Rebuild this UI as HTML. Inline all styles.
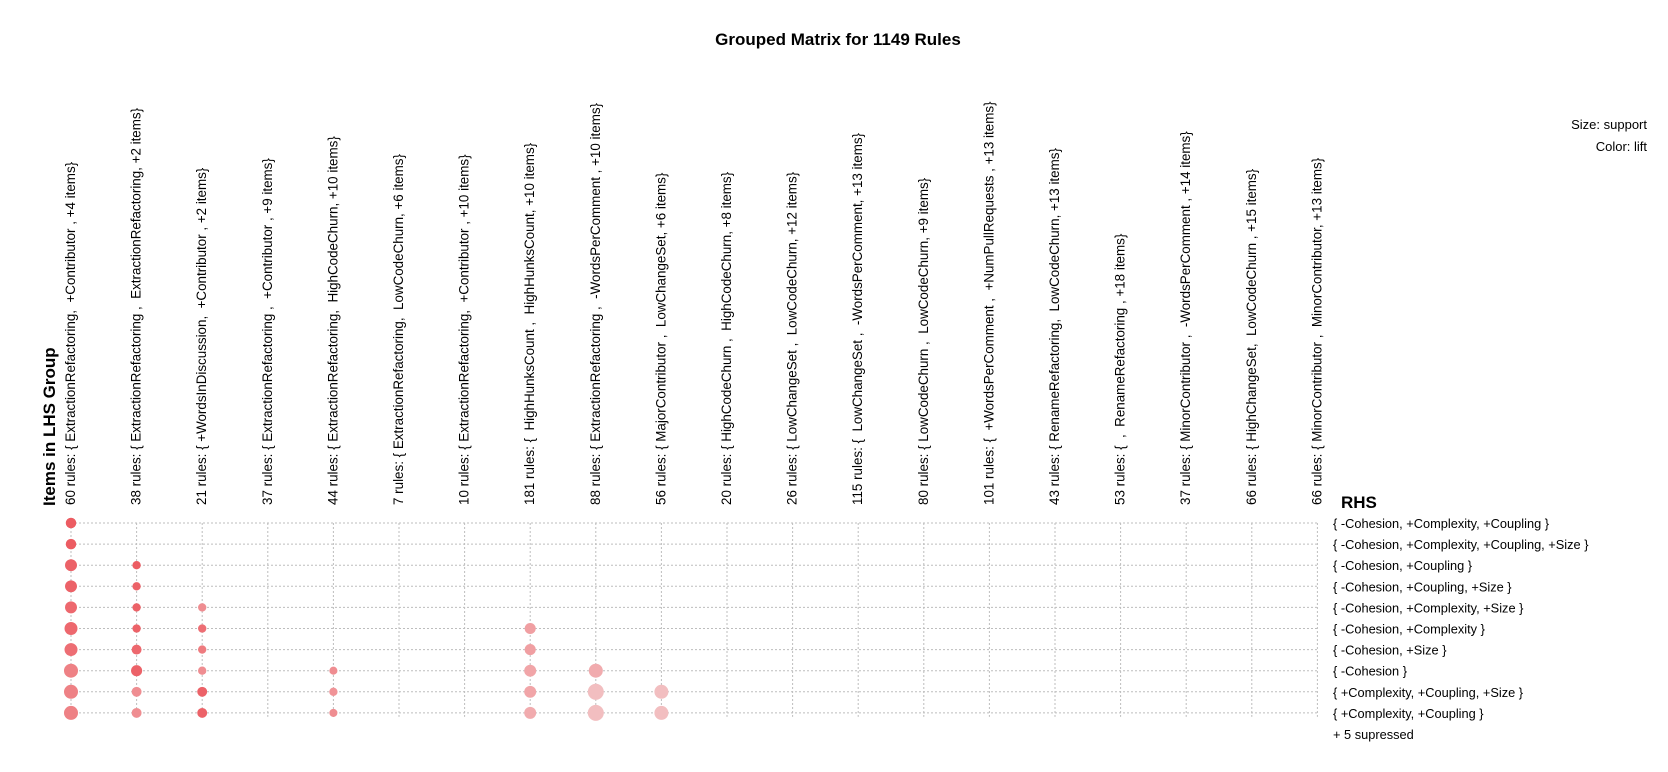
<!DOCTYPE html>
<html><head><meta charset="utf-8"><style>
html,body{margin:0;padding:0;background:#fff;}
svg{display:block;font-family:"Liberation Sans",Arial,sans-serif;}
#lhs text{white-space:pre;}
</style></head><body>
<svg id="chart" width="1668" height="772" viewBox="0 0 1668 772">
<text x="838" y="45" text-anchor="middle" font-size="17" font-weight="bold">Grouped Matrix for 1149 Rules</text>
<text x="1647" y="129" text-anchor="end" font-size="13">Size: support</text>
<text x="1647" y="151" text-anchor="end" font-size="13">Color: lift</text>
<text transform="translate(55,506) rotate(-90)" font-size="17" font-weight="bold">Items in LHS Group</text>
<text x="1341" y="508" font-size="17" font-weight="bold">RHS</text>
<g id="grid"></g><g id="lhs"></g><g id="rhs"></g><g id="pts"></g>
</svg>
<script>
const lhsLabels=["60 rules: { ExtractionRefactoring,  +Contributor , +4 items}","38 rules: { ExtractionRefactoring ,  ExtractionRefactoring, +2 items}","21 rules: { +WordsInDiscussion,  +Contributor , +2 items}","37 rules: { ExtractionRefactoring ,  +Contributor , +9 items}","44 rules: { ExtractionRefactoring,  HighCodeChurn, +10 items}","7 rules: { ExtractionRefactoring,  LowCodeChurn, +6 items}","10 rules: { ExtractionRefactoring,  +Contributor , +10 items}","181 rules: {  HighHunksCount ,  HighHunksCount, +10 items}","88 rules: { ExtractionRefactoring ,  -WordsPerComment , +10 items}","56 rules: { MajorContributor ,  LowChangeSet, +6 items}","20 rules: { HighCodeChurn ,  HighCodeChurn, +8 items}","26 rules: { LowChangeSet ,  LowCodeChurn, +12 items}","115 rules: {  LowChangeSet ,  -WordsPerComment, +13 items}","80 rules: { LowCodeChurn ,  LowCodeChurn, +9 items}","101 rules: {  +WordsPerComment ,  +NumPullRequests , +13 items}","43 rules: { RenameRefactoring,  LowCodeChurn, +13 items}","53 rules: {  ,  RenameRefactoring , +18 items}","37 rules: { MinorContributor ,  -WordsPerComment , +14 items}","66 rules: { HighChangeSet,  LowCodeChurn , +15 items}","66 rules: { MinorContributor ,  MinorContributor, +13 items}"];
const rhsLabels=["{ -Cohesion, +Complexity, +Coupling }","{ -Cohesion, +Complexity, +Coupling, +Size }","{ -Cohesion, +Coupling }","{ -Cohesion, +Coupling, +Size }","{ -Cohesion, +Complexity, +Size }","{ -Cohesion, +Complexity }","{ -Cohesion, +Size }","{ -Cohesion }","{ +Complexity, +Coupling, +Size }","{ +Complexity, +Coupling }"];
const ptRow=[0,1,2,2,3,3,4,4,4,5,5,5,5,6,6,6,6,7,7,7,7,7,7,8,8,8,8,8,8,8,9,9,9,9,9,9,9];
const ptCol=[0,0,0,1,0,1,0,1,2,0,1,2,7,0,1,2,7,0,1,2,4,7,8,0,1,2,4,7,8,9,0,1,2,4,7,8,9];
const ptSupport=[0.027,0.027,0.035,0.017,0.035,0.017,0.035,0.017,0.017,0.041,0.017,0.017,0.030,0.041,0.024,0.017,0.030,0.048,0.030,0.017,0.016,0.035,0.048,0.048,0.024,0.024,0.017,0.035,0.0625,0.048,0.048,0.024,0.024,0.016,0.035,0.0625,0.048];
const ptLift=[2.0,2.0,1.95,2.0,1.95,1.95,1.9,1.95,1.6,1.9,1.95,1.85,1.45,1.85,1.9,1.75,1.45,1.7,1.95,1.6,1.6,1.4,1.35,1.7,1.6,1.95,1.55,1.4,1.2,1.2,1.7,1.6,1.95,1.6,1.35,1.2,1.2];
const NS="http://www.w3.org/2000/svg";
const x0=71,dx=65.6,y0=523,dy=21.1;
const xPos=i=>x0+i*dx, yPos=j=>y0+j*dy;
const rScale=s=>32*Math.sqrt(s);
const liftMin=1,liftMax=2;
function col(l){const t=(l-liftMin)/(liftMax-liftMin);const a=[244,214,215],b=[236,92,98];
return `rgb(${a.map((v,i)=>Math.round(v+(b[i]-v)*t)).join(',')})`;}
const g=document.getElementById('grid');
const xl=xPos(lhsLabels.length-1),yl=yPos(rhsLabels.length-1);
rhsLabels.forEach((lab,j)=>{const l=document.createElementNS(NS,'line');


l.setAttribute('x1',xPos(0));l.setAttribute('x2',xl);l.setAttribute('y1',yPos(j));l.setAttribute('y2',yPos(j));
l.setAttribute('stroke','#bdbdbd');l.setAttribute('stroke-dasharray','2,2');g.appendChild(l);
const t=document.createElementNS(NS,'text');


t.setAttribute('x',1333);t.setAttribute('y',yPos(j)+5);t.setAttribute('font-size','12.8');t.textContent=lab;document.getElementById('rhs').appendChild(t);});
lhsLabels.forEach((lab,i)=>{const l=document.createElementNS(NS,'line');


l.setAttribute('x1',xPos(i));l.setAttribute('x2',xPos(i));l.setAttribute('y1',y0);l.setAttribute('y2',yl+4);
l.setAttribute('stroke','#bdbdbd');l.setAttribute('stroke-dasharray','2,2');g.appendChild(l);
const t=document.createElementNS(NS,'text');


t.setAttribute('transform',`translate(${xPos(i)+4},505) rotate(-90)`);t.setAttribute('font-size','13.4');t.textContent=lab;document.getElementById('lhs').appendChild(t);});
const sup=document.createElementNS(NS,'text');


sup.setAttribute('x',1333);sup.setAttribute('y',yPos(rhsLabels.length)+5);sup.setAttribute('font-size','12.8');sup.textContent='+ 5 supressed';
document.getElementById('rhs').appendChild(sup);
const P=document.getElementById('pts');
ptRow.forEach((r,k)=>{const c=document.createElementNS(NS,'circle');


c.setAttribute('cx',xPos(ptCol[k]));c.setAttribute('cy',yPos(r));c.setAttribute('r',rScale(ptSupport[k]));
c.setAttribute('fill',col(ptLift[k]));P.appendChild(c);});
</script>
</body></html>
